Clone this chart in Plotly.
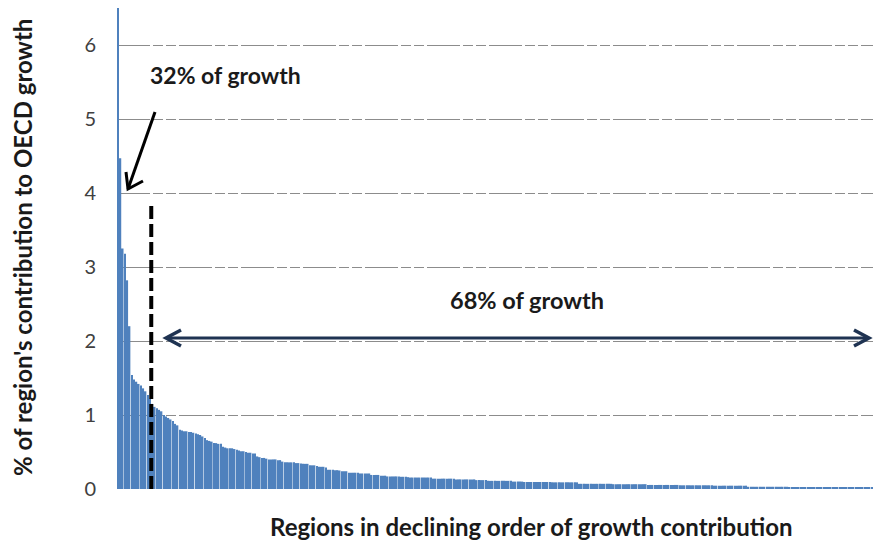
import plotly.graph_objects as go

# Contribution (% of OECD growth) of each region, in declining order
contribution = [
    6.5, 4.47, 3.25, 3.18, 2.82, 2.2,
    1.54, 1.48, 1.45, 1.42, 1.40, 1.36, 1.32, 1.27, 1.22,
    1.15, 1.11, 1.09, 1.07, 1.05, 1.0, 0.98, 0.96, 0.94, 0.92,
    0.88, 0.86, 0.80, 0.79,
    0.78, 0.78, 0.77, 0.77, 0.76, 0.75, 0.74,
    0.73, 0.71, 0.69, 0.66, 0.65, 0.64,
    0.62, 0.62, 0.61, 0.61, 0.57, 0.56,
    0.55, 0.55, 0.55, 0.54, 0.53, 0.52,
    0.51, 0.51, 0.50, 0.49, 0.49, 0.48, 0.48,
    0.44, 0.43, 0.42, 0.42,
    0.41, 0.40, 0.40, 0.40, 0.40, 0.39, 0.39,
    0.37, 0.36, 0.36, 0.36, 0.36, 0.36, 0.35,
    0.35, 0.345, 0.34, 0.34, 0.34,
    0.32, 0.32, 0.32, 0.31, 0.30, 0.30, 0.30, 0.29,
    0.26, 0.26, 0.26, 0.255, 0.255, 0.25, 0.24, 0.24, 0.24,
    0.22, 0.22, 0.22, 0.22, 0.22, 0.21, 0.21, 0.21, 0.21, 0.21,
    0.19, 0.19, 0.19, 0.19,
    0.18, 0.18, 0.18, 0.17, 0.17, 0.17, 0.17,
    0.17, 0.17, 0.165, 0.165, 0.165, 0.16,
    0.155, 0.155, 0.155, 0.155, 0.155, 0.155, 0.155, 0.155, 0.155, 0.155,
    0.14, 0.14, 0.14, 0.14, 0.14, 0.14, 0.14, 0.14, 0.14, 0.14,
    0.13, 0.13, 0.13, 0.13, 0.13, 0.13, 0.13, 0.13, 0.13,
    0.12, 0.12, 0.12, 0.12, 0.12, 0.11, 0.11, 0.11, 0.11, 0.11, 0.11,
    0.11, 0.11, 0.11, 0.11, 0.11, 0.10, 0.10, 0.10, 0.10, 0.10,
    0.095, 0.095, 0.095, 0.095, 0.095, 0.095, 0.095, 0.095, 0.095, 0.095, 0.095, 0.095,
    0.09, 0.09, 0.09, 0.09, 0.09, 0.09, 0.09, 0.09, 0.09, 0.09, 0.09, 0.09,
    0.07, 0.07, 0.07, 0.07, 0.07, 0.07, 0.07, 0.07, 0.07, 0.07, 0.07, 0.07, 0.07, 0.07, 0.07,
    0.065, 0.065, 0.065, 0.065, 0.065, 0.065, 0.065, 0.065, 0.065, 0.065, 0.065, 0.065, 0.065, 0.065, 0.065,
    0.055, 0.055, 0.055, 0.055, 0.055, 0.055, 0.055, 0.055, 0.055, 0.055, 0.055, 0.055, 0.055, 0.055,
    0.05, 0.05, 0.05, 0.05, 0.05, 0.05, 0.05, 0.05, 0.05, 0.05, 0.05, 0.05, 0.05, 0.05, 0.05,
    0.045, 0.045, 0.045, 0.045, 0.045, 0.045, 0.045, 0.045, 0.045, 0.045, 0.045, 0.045, 0.045, 0.045, 0.045,
    0.03, 0.03, 0.03, 0.03, 0.03, 0.03, 0.03, 0.03, 0.03, 0.03, 0.03, 0.03, 0.03, 0.03, 0.03, 0.03, 0.03, 0.03,
    0.025, 0.025, 0.025, 0.025, 0.025, 0.025, 0.025, 0.025, 0.025, 0.025,
    0.025, 0.025, 0.025, 0.025, 0.025, 0.025, 0.025, 0.025, 0.025,
    0.02, 0.02, 0.02, 0.02, 0.02, 0.02, 0.02, 0.02, 0.02, 0.02, 0.02, 0.02, 0.02, 0.02, 0.02, 0.02, 0.02, 0.02,
]
regions = list(range(len(contribution)))
y_ticks = [0, 1, 2, 3, 4, 5, 6]

top_group_size = 15          # regions producing 32% of growth
label_top = "32% of growth"
label_rest = "68% of growth"
x_title = "Regions in declining order of growth contribution"
y_title = "% of region's contribution to OECD growth"

N = len(contribution)
W, H = 873, 543
L, T, R, B = 117, 8, 0, 54
PW, PH = W - L - R, H - T - B
XR = [-0.5, N - 0.5]
YR = [0, 6.5]

def px2x(px):
    return XR[0] + (px - L) / PW * (XR[1] - XR[0])

def px2y(py):
    return YR[0] + (T + PH - py) / PH * (YR[1] - YR[0])

FONT = "Lato, 'Open Sans', sans-serif"
TXT = "#1a1a1a"

fig = go.Figure()
fig.add_trace(go.Bar(x=regions, y=contribution, marker=dict(color="#4F81BD", line=dict(width=0)),
                     hoverinfo="y"))

shapes = []
# vertical dashed divider
shapes.append(dict(type="line", xref="x", yref="y", x0=top_group_size - 0.5, x1=top_group_size - 0.5,
                   y0=0, y1=px2y(205), line=dict(color="black", width=4, dash="13px,5px")))

# diagonal arrow (black)
tail = (155, 112)
tip = (128, 189)
shapes.append(dict(type="line", xref="x", yref="y", x0=px2x(tail[0]), y0=px2y(tail[1]),
                   x1=px2x(tip[0]), y1=px2y(tip[1]), line=dict(color="black", width=3)))
arm1 = (126, 172)
arm2 = (143, 181)
shapes.append(dict(type="path", xref="x", yref="y",
                   path=f"M {px2x(arm1[0])} {px2y(arm1[1])} L {px2x(tip[0])} {px2y(tip[1])} L {px2x(arm2[0])} {px2y(arm2[1])}",
                   line=dict(color="black", width=3)))

# horizontal double arrow (navy)
NAVY = "#1F3352"
ya = 338
shapes.append(dict(type="line", xref="x", yref="y", x0=px2x(166), x1=px2x(869), y0=px2y(ya), y1=px2y(ya),
                   line=dict(color=NAVY, width=3)))
shapes.append(dict(type="path", xref="x", yref="y",
                   path=f"M {px2x(181)} {px2y(ya-8)} L {px2x(166)} {px2y(ya)} L {px2x(181)} {px2y(ya+8)}",
                   line=dict(color=NAVY, width=3.5)))
shapes.append(dict(type="path", xref="x", yref="y",
                   path=f"M {px2x(854)} {px2y(ya-8)} L {px2x(869)} {px2y(ya)} L {px2x(854)} {px2y(ya+8)}",
                   line=dict(color=NAVY, width=3.5)))

annotations = [
    dict(text=label_top, xref="paper", yref="paper", x=(148 - L) / PW, y=(T + PH - 75) / PH,
         xanchor="left", yanchor="middle", showarrow=False,
         font=dict(family=FONT, size=23, color=TXT, weight="bold")),
    dict(text=label_rest, xref="paper", yref="paper", x=(527 - L) / PW, y=(T + PH - 300) / PH,
         xanchor="center", yanchor="middle", showarrow=False,
         font=dict(family=FONT, size=23.5, color=TXT, weight="bold")),
    dict(text=x_title, xref="paper", yref="paper", x=(531 - L) / PW, y=(T + PH - 526) / PH,
         xanchor="center", yanchor="middle", showarrow=False,
         font=dict(family=FONT, size=24, color=TXT, weight="bold")),
    dict(text=y_title, xref="paper", yref="paper", x=(22 - L) / PW, y=(T + PH - 248) / PH,
         xanchor="center", yanchor="middle", showarrow=False, textangle=-90,
         font=dict(family=FONT, size=24, color=TXT, weight="bold")),
]

fig.update_layout(
    width=W, height=H,
    margin=dict(l=L, r=R, t=T, b=B),
    plot_bgcolor="white", paper_bgcolor="white",
    bargap=0.3,
    showlegend=False,
    shapes=shapes,
    annotations=annotations,
    xaxis=dict(range=XR, showticklabels=False, showgrid=False, zeroline=False, showline=False,
               ticks=""),
    yaxis=dict(range=YR, tickvals=y_ticks, showgrid=True, gridcolor="#8c8c8c", gridwidth=1.2,
               griddash="33px,3px,10px,3px,10px,3px", zeroline=False, showline=False,
               ticks="", ticklabelstandoff=20,
               tickfont=dict(family=FONT, size=20, color="#404040")),
)

fig.write_html("out.html", config={"displayModeBar": False},
               post_script="document.body.style.margin='0';document.body.style.overflow='hidden';")
